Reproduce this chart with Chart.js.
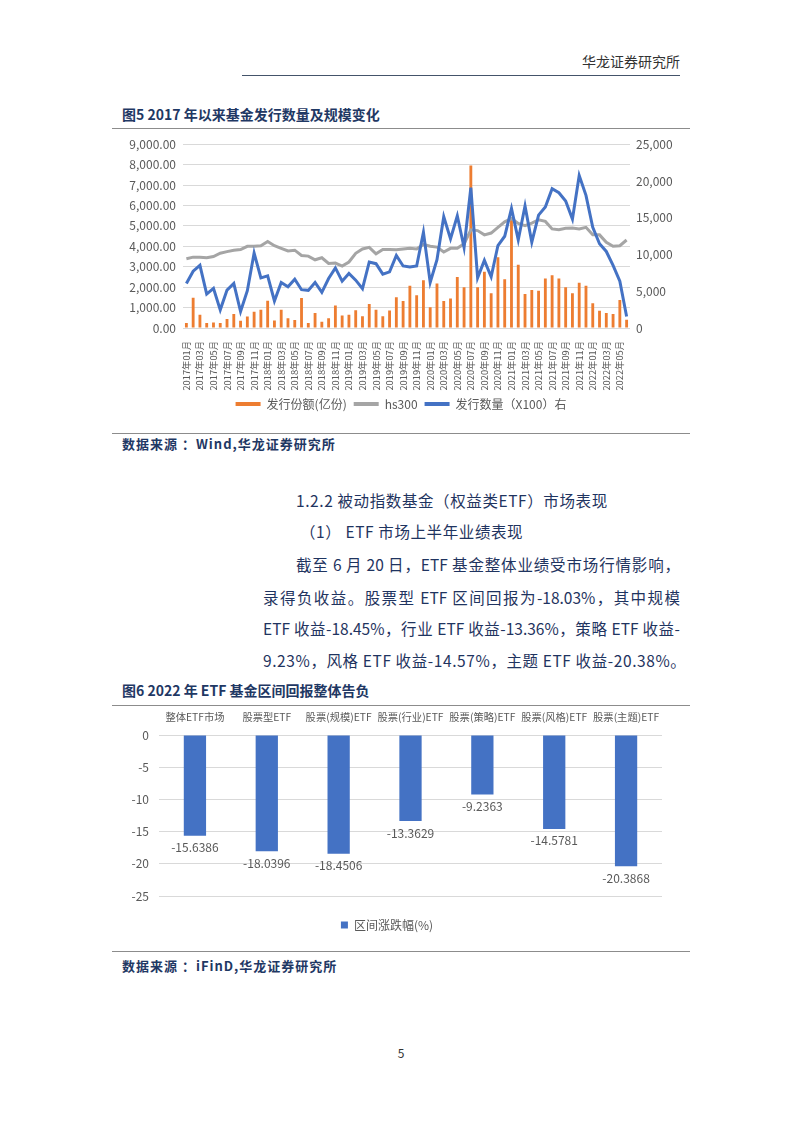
<!DOCTYPE html>
<html><head><meta charset="utf-8">
<script src="https://cdn.jsdelivr.net/npm/chart.js@4.4.1/dist/chart.umd.min.js"></script>
<style>
html,body{margin:0;padding:0;background:#fff;}
body{width:802px;height:1133px;position:relative;overflow:hidden;font-family:"Noto Sans CJK SC","Noto Sans",sans-serif;}
.t{position:absolute;white-space:nowrap;}
.hl{position:absolute;height:0;}
.ttl{font-weight:bold;color:#1f3864;font-size:14px;line-height:14px;}
.src{font-weight:bold;color:#1f3864;font-size:13px;line-height:13px;letter-spacing:1px;}
.body{color:#1f3460;font-size:15.5px;line-height:16px;}
.just{text-align:justify;text-align-last:justify;}
</style></head>
<body>
<div class="t" style="left:580px;top:54px;width:100px;text-align:right;font-size:14px;line-height:15px;color:#333;">华龙证券研究所</div>
<div class="hl" style="left:242px;top:75px;width:438px;border-top:1px solid #44546a;"></div>

<div class="t ttl" style="left:122px;top:107px;">图5 2017 年以来基金发行数量及规模变化</div>
<div class="hl" style="left:112px;top:128px;width:578px;border-top:1.5px solid #8c8c8c;"></div>
<canvas id="c1" style="position:absolute;left:112px;top:130px;width:578px;height:290px;"></canvas>
<div class="hl" style="left:112px;top:433px;width:578px;border-top:1.5px solid #8c8c8c;"></div>
<div class="t src" style="left:122px;top:437px;">数据来源 ：Wind,华龙证券研究所</div>

<div class="t body" style="left:296px;top:492px;letter-spacing:0.6px;">1.2.2 被动指数基金（权益类ETF）市场表现</div>
<div class="t body" style="left:300px;top:523px;letter-spacing:0.6px;">（1） ETF 市场上半年业绩表现</div>
<div class="t body just" style="left:296px;top:556px;width:384px;">截至 6 月 20 日，ETF 基金整体业绩受市场行情影响，</div>
<div class="t body just" style="left:263px;top:589px;width:417px;">录得负收益。股票型 ETF 区间回报为-18.03%，其中规模</div>
<div class="t body just" style="left:263px;top:620px;width:417px;">ETF 收益-18.45%，行业 ETF 收益-13.36%，策略 ETF 收益-</div>
<div class="t body" style="left:263px;top:652px;letter-spacing:0.6px;">9.23%，风格 ETF 收益-14.57%，主题 ETF 收益-20.38%。</div>

<div class="t ttl" style="left:122px;top:683px;">图6 2022 年 ETF 基金区间回报整体告负</div>
<div class="hl" style="left:112px;top:705px;width:578px;border-top:1.5px solid #8c8c8c;"></div>
<canvas id="c2" style="position:absolute;left:112px;top:708px;width:578px;height:233px;"></canvas>
<div class="hl" style="left:112px;top:951px;width:578px;border-top:1.5px solid #8c8c8c;"></div>
<div class="t src" style="left:122px;top:959px;">数据来源 ：iFinD,华龙证券研究所</div>

<div class="t" style="left:390px;top:1046px;width:22px;text-align:center;font-size:12px;line-height:13px;color:#333;">5</div>

<script>
// ---------- Chart 1 data ----------
const months = [];
for (let y = 2017; y <= 2022; y++) {
  for (let m = 1; m <= 12; m++) {
    if (y === 2022 && m > 6) break;
    months.push(y + '年' + String(m).padStart(2, '0') + '月');
  }
}
const issueShares = [
  240,1480,650,240,270,240,440,680,350,560,790,890,
  1340,370,890,480,390,1470,240,730,310,480,1100,610,
  650,870,580,1180,890,570,860,1500,1320,2070,1600,2340,
  1020,2180,1320,1440,2500,1990,7960,1990,2750,1700,3470,2390,
  5410,3100,1660,1860,1830,2420,2580,2420,1990,1700,2210,2070,
  1210,840,730,690,1370,400
];
const hs300 = [
  3390,3470,3470,3440,3500,3660,3740,3810,3840,4000,4000,4030,
  4240,4030,3900,3770,3810,3550,3520,3340,3440,3160,3180,3030,
  3230,3660,3870,3950,3630,3840,3840,3830,3870,3900,3870,4090,
  4000,3960,3720,3900,3900,4120,4810,4770,4560,4650,4930,5200,
  5360,5120,5010,5140,5300,5220,4850,4810,4880,4900,4850,4930,
  4560,4560,4200,4000,4030,4310
];
const issueCount = [
  6060,7720,8530,4620,5390,2470,5160,6060,2240,5070,10190,6820,
  7090,3680,6190,5610,6640,5210,5120,6190,4850,6730,8170,6370,
  7410,6510,5340,8980,8750,7320,7630,9870,8440,8300,8440,13020,
  6190,9290,15130,12120,15260,10950,19080,6820,9200,6960,11220,12480,
  16250,11980,16610,11670,15350,16470,18940,18400,17280,14810,20740,18040,
  13690,11450,10410,8530,6370,1570
];
const seriesNames1 = ['发行份额(亿份)', 'hs300', '发行数量（X100）右'];

// ---------- Chart 2 data ----------
const etfCats = ['整体ETF市场','股票型ETF','股票(规模)ETF','股票(行业)ETF','股票(策略)ETF','股票(风格)ETF','股票(主题)ETF'];
const etfReturns = [-15.6386,-18.0396,-18.4506,-13.3629,-9.2363,-14.5781,-20.3868];
const seriesName2 = '区间涨跌幅(%)';

const FONT = '"Noto Sans CJK SC","Noto Sans",sans-serif';
const GRAY = '#595959';
Chart.defaults.font.family = FONT;
Chart.defaults.color = GRAY;

function legendLabels(chart) {
  const items = Chart.defaults.plugins.legend.labels.generateLabels(chart);
  items.forEach(it => { it.lineWidth = 0; });
  return items;
}

new Chart(document.getElementById('c1'), {
  type: 'bar',
  data: {
    labels: months,
    datasets: [
      { type: 'bar', label: seriesNames1[0], data: issueShares, backgroundColor: '#ED7D31', borderWidth: 0,
        yAxisID: 'y', barPercentage: 0.42, categoryPercentage: 1, order: 3 },
      { type: 'line', label: seriesNames1[1], data: hs300, borderColor: '#A5A5A5', backgroundColor: '#A5A5A5',
        borderWidth: 3, pointRadius: 0, tension: 0, yAxisID: 'y', order: 2 },
      { type: 'line', label: seriesNames1[2], data: issueCount, borderColor: '#4472C4', backgroundColor: '#4472C4',
        borderWidth: 3, pointRadius: 0, tension: 0, yAxisID: 'y1', order: 1 }
    ]
  },
  options: {
    responsive: false, animation: false, devicePixelRatio: 1,
    layout: { padding: { top: 14, left: 0, right: 0, bottom: 0 } },
    plugins: {
      tooltip: { enabled: false },
      legend: {
        position: 'bottom',
        labels: { font: { size: 12 }, color: GRAY, boxWidth: 25, boxHeight: 4, padding: 7,
          generateLabels: legendLabels, sort: (a, b) => a.datasetIndex - b.datasetIndex }
      }
    },
    scales: {
      x: {
        grid: { display: false }, border: { display: false },
        ticks: { autoSkip: false, minRotation: 90, maxRotation: 90, padding: 5, font: { size: 9.3 }, color: GRAY,
          callback: function (v, i) { return i % 2 === 0 ? this.getLabelForValue(v) : ''; } },
        afterFit: s => { s.height = 63; }
      },
      y: {
        position: 'left', min: 0, max: 9000,
        ticks: { stepSize: 1000, padding: 7, font: { size: 12 }, color: GRAY,
          callback: v => v.toLocaleString('en-US', { minimumFractionDigits: 2, maximumFractionDigits: 2 }) },
        grid: { color: '#D9D9D9', drawTicks: false, lineWidth: 1 }, border: { display: false },
        afterFit: s => { s.width = 71; }
      },
      y1: {
        position: 'right', min: 0, max: 25000,
        ticks: { stepSize: 5000, padding: 6, font: { size: 12 }, color: GRAY,
          callback: v => v.toLocaleString('en-US') },
        grid: { drawOnChartArea: false, drawTicks: false }, border: { display: false },
        afterFit: s => { s.width = 60; }
      }
    }
  }
});

const valueLabels = {
  id: 'valueLabels',
  afterDatasetsDraw(chart) {
    const ctx = chart.ctx;
    const meta = chart.getDatasetMeta(0);
    ctx.save();
    ctx.font = '12px ' + FONT;
    ctx.fillStyle = GRAY;
    ctx.textAlign = 'center';
    ctx.textBaseline = 'middle';
    meta.data.forEach((el, i) => {
      ctx.fillText(String(chart.data.datasets[0].data[i]), el.x, el.y + 12);
    });
    ctx.restore();
  }
};

new Chart(document.getElementById('c2'), {
  type: 'bar',
  data: {
    labels: etfCats,
    datasets: [{ label: seriesName2, data: etfReturns, backgroundColor: '#4472C4', borderWidth: 0,
      barPercentage: 0.31, categoryPercentage: 1 }]
  },
  options: {
    responsive: false, animation: false, devicePixelRatio: 1,
    layout: { padding: { top: 0, left: 0, right: 28, bottom: 0 } },
    plugins: {
      tooltip: { enabled: false },
      legend: {
        position: 'bottom',
        labels: { font: { size: 12 }, color: GRAY, boxWidth: 7, boxHeight: 7, padding: 23, generateLabels: legendLabels }
      }
    },
    scales: {
      x: {
        position: 'top',
        grid: { display: false }, border: { display: false },
        ticks: { font: { size: 10.3 }, color: GRAY, padding: 4, autoSkip: false, maxRotation: 0 },
        afterFit: s => { s.height = 27; }
      },
      y: {
        min: -25, max: 0,
        ticks: { stepSize: 5, padding: 10, font: { size: 12 }, color: GRAY },
        grid: { color: '#D9D9D9', drawTicks: false }, border: { display: false },
        afterFit: s => { s.width = 47; }
      }
    }
  },
  plugins: [valueLabels]
});
</script>
</body></html>
